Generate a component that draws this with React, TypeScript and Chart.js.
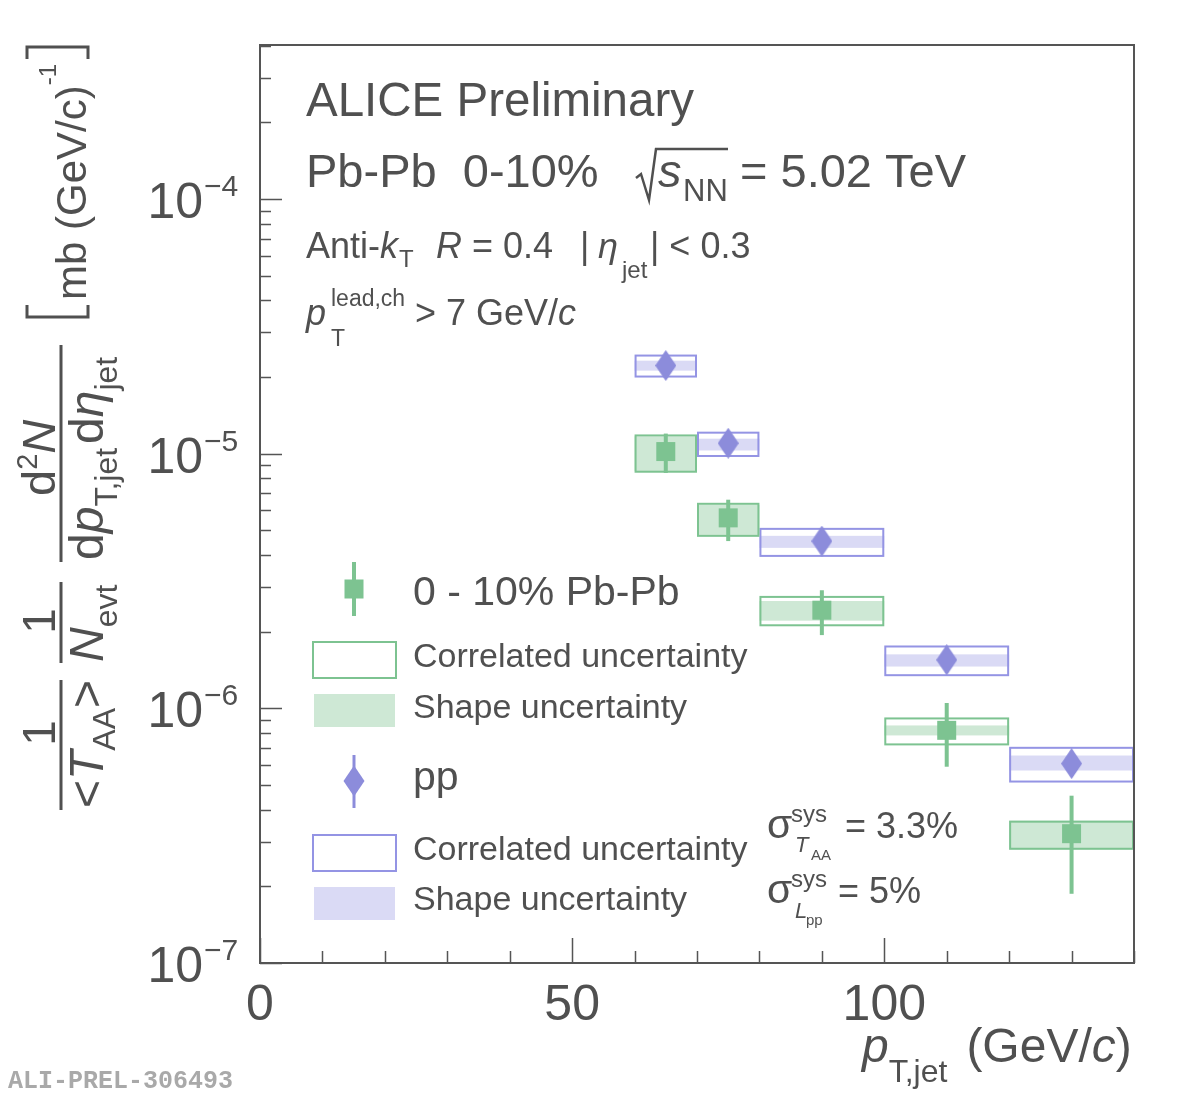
import { useEffect, useRef } from "react";
import { Chart, registerables } from "chart.js";

Chart.register(...registerables);

// pT,jet bins (GeV/c)
const binLow = [60, 70, 80, 100, 120];
const binHigh = [70, 80, 100, 120, 140];
const binCenter = [65, 75, 90, 110, 130];

// 0-10% Pb-Pb, scaled by 1/<TAA>
const pbpbValue = [1.02e-5, 5.6e-6, 2.43e-6, 8.2e-7, 3.22e-7];
const pbpbStatLow = [8.4e-6, 4.54e-6, 1.94e-6, 5.9e-7, 1.87e-7];
const pbpbStatHigh = [1.2e-5, 6.6e-6, 2.91e-6, 1.05e-6, 4.54e-7];
const pbpbCorrLow = [8.5e-6, 4.76e-6, 2.12e-6, 7.22e-7, 2.81e-7];
const pbpbCorrHigh = [1.18e-5, 6.36e-6, 2.74e-6, 9.13e-7, 3.59e-7];
const pbpbShapeLow = [8.55e-6, 4.8e-6, 2.21e-6, 7.83e-7, 2.79e-7];
const pbpbShapeHigh = [1.17e-5, 6.3e-6, 2.64e-6, 8.57e-7, 3.62e-7];

// pp reference
const ppValue = [2.22e-5, 1.1e-5, 4.54e-6, 1.55e-6, 6.07e-7];
const ppStatLow = [2.15e-5, 1.06e-5, 4.3e-6, 1.38e-6, 5.6e-7];
const ppStatHigh = [2.29e-5, 1.14e-5, 4.8e-6, 1.76e-6, 6.6e-7];
const ppCorrLow = [2.01e-5, 9.8e-6, 3.97e-6, 1.35e-6, 5.16e-7];
const ppCorrHigh = [2.43e-5, 1.21e-5, 5.07e-6, 1.75e-6, 7.0e-7];
const ppShapeLow = [2.12e-5, 1.03e-5, 4.27e-6, 1.46e-6, 5.7e-7];
const ppShapeHigh = [2.32e-5, 1.146e-5, 4.76e-6, 1.63e-6, 6.53e-7];

// axes
const xRange = [0, 140];
const yRange = [1e-7, 4.03e-4];
const xTickValues = [0, 10, 20, 30, 40, 50, 60, 70, 80, 90, 100, 110, 120, 130, 140];
const xLabelValues = [0, 50, 100];
const yDecades = [-7, -6, -5, -4];

const FONT = '"Liberation Sans", Arial, Helvetica, sans-serif';
const INK = "#505050";
const FRAME = "#555555";
const GREEN = "#7dc391";
const GREEN_FILL = "rgba(125,195,145,0.38)";
const PURPLE = "#8c8cdb";
const PURPLE_LINE = "#9494e4";
const PURPLE_FILL = "rgba(150,150,225,0.35)";

type Piece = { t: string; size: number; italic?: boolean; shift?: number; gap?: number };

function fnt(size: number, italic = false) {
  return `${italic ? "italic " : ""}${size}px ${FONT}`;
}

// horizontal run of text pieces starting at (x, y) baseline
function run(ctx: CanvasRenderingContext2D, x: number, y: number, pieces: Piece[]) {
  ctx.save();
  ctx.fillStyle = INK;
  ctx.textAlign = "left";
  ctx.textBaseline = "alphabetic";
  let u = x;
  for (const p of pieces) {
    u += p.gap ?? 0;
    ctx.font = fnt(p.size, p.italic);
    ctx.fillText(p.t, u, y + (p.shift ?? 0));
    u += ctx.measureText(p.t).width;
  }
  ctx.restore();
}

// text reading bottom-to-top; baseX is the baseline's x, startY where the run begins
function runUp(ctx: CanvasRenderingContext2D, baseX: number, startY: number, pieces: Piece[], align: CanvasTextAlign = "left") {
  ctx.save();
  ctx.translate(baseX, startY);
  ctx.rotate(-Math.PI / 2);
  ctx.fillStyle = INK;
  ctx.textAlign = align;
  ctx.textBaseline = "alphabetic";
  let u = 0;
  for (const p of pieces) {
    u += p.gap ?? 0;
    ctx.font = fnt(p.size, p.italic);
    ctx.fillText(p.t, u, p.shift ?? 0);
    u += ctx.measureText(p.t).width;
  }
  ctx.restore();
}

function diamondPath(ctx: CanvasRenderingContext2D, cx: number, cy: number, w: number, h: number) {
  ctx.beginPath();
  ctx.moveTo(cx, cy - h / 2);
  ctx.lineTo(cx + w / 2, cy);
  ctx.lineTo(cx, cy + h / 2);
  ctx.lineTo(cx - w / 2, cy);
  ctx.closePath();
}

function makeDiamond(w: number, h: number, color: string) {
  const c = document.createElement("canvas");
  c.width = w;
  c.height = h;
  const g = c.getContext("2d")!;
  g.fillStyle = color;
  diamondPath(g, w / 2, h / 2, w, h);
  g.fill();
  return c;
}

// uncertainty boxes and statistical error bars, below the markers
const uncertaintyPlugin = {
  id: "uncertainties",
  beforeDatasetsDraw(chart: any) {
    const { ctx } = chart;
    const xs = chart.scales.x;
    const ys = chart.scales.y;
    const series = [
      { shL: ppShapeLow, shH: ppShapeHigh, coL: ppCorrLow, coH: ppCorrHigh, stL: ppStatLow, stH: ppStatHigh, fill: PURPLE_FILL, line: PURPLE_LINE, bar: PURPLE, barW: 3 },
      { shL: pbpbShapeLow, shH: pbpbShapeHigh, coL: pbpbCorrLow, coH: pbpbCorrHigh, stL: pbpbStatLow, stH: pbpbStatHigh, fill: GREEN_FILL, line: GREEN, bar: GREEN, barW: 4 },
    ];
    ctx.save();
    for (const s of series) {
      for (let i = 0; i < binCenter.length; i++) {
        const x0 = xs.getPixelForValue(binLow[i]);
        const x1 = xs.getPixelForValue(binHigh[i]);
        const sy0 = ys.getPixelForValue(s.shH[i]);
        const sy1 = ys.getPixelForValue(s.shL[i]);
        ctx.fillStyle = s.fill;
        ctx.fillRect(x0, sy0, x1 - x0, sy1 - sy0);
        const cy0 = ys.getPixelForValue(s.coH[i]);
        const cy1 = ys.getPixelForValue(s.coL[i]);
        ctx.strokeStyle = s.line;
        ctx.lineWidth = 2;
        ctx.strokeRect(x0 + 1, cy0, x1 - x0 - 2, cy1 - cy0);
        const xc = xs.getPixelForValue(binCenter[i]);
        ctx.strokeStyle = s.bar;
        ctx.lineWidth = s.barW;
        ctx.beginPath();
        ctx.moveTo(xc, ys.getPixelForValue(s.stH[i]));
        ctx.lineTo(xc, ys.getPixelForValue(s.stL[i]));
        ctx.stroke();
      }
    }
    ctx.restore();
  },
};

// frame, ticks, labels, titles and legend
const decorPlugin = {
  id: "decor",
  afterDraw(chart: any) {
    const { ctx, chartArea: a } = chart;
    const xs = chart.scales.x;
    const ys = chart.scales.y;
    ctx.save();

    // frame and ticks
    ctx.strokeStyle = FRAME;
    ctx.lineWidth = 2;
    ctx.strokeRect(a.left, a.top, a.right - a.left, a.bottom - a.top);
    ctx.beginPath();
    for (const d of yDecades) {
      for (let m = 1; m <= 9; m++) {
        const v = m * Math.pow(10, d);
        if (v < yRange[0] || v > yRange[1]) continue;
        const py = Math.round(ys.getPixelForValue(v)) + 0.5;
        const len = m === 1 ? 22 : 11;
        ctx.moveTo(a.left, py);
        ctx.lineTo(a.left + len, py);
      }
    }
    for (const v of xTickValues) {
      const px = Math.round(xs.getPixelForValue(v)) + 0.5;
      const len = v % 50 === 0 ? 25 : 12;
      ctx.moveTo(px, a.bottom);
      ctx.lineTo(px, a.bottom - len);
    }
    ctx.lineWidth = 1.5;
    ctx.stroke();

    // y tick labels 10^n
    ctx.fillStyle = INK;
    for (const d of yDecades) {
      const py = ys.getPixelForValue(Math.pow(10, d));
      ctx.font = fnt(50);
      ctx.textAlign = "right";
      ctx.fillText("10", 203, py + 19);
      ctx.font = fnt(30);
      ctx.textAlign = "left";
      ctx.fillText("\u2212" + String(-d), 204, py - 3);
    }
    // x tick labels
    ctx.font = fnt(50);
    ctx.textAlign = "center";
    for (const v of xLabelValues) {
      ctx.fillText(String(v), xs.getPixelForValue(v), 1020);
    }

    // x title
    run(ctx, 862, 1062, [
      { t: "p", size: 48, italic: true },
      { t: "T,jet", size: 32, shift: 20 },
      { t: "(GeV/", size: 48, gap: 19 },
      { t: "c", size: 48, italic: true },
      { t: ")", size: 48 },
    ]);

    // y title
    runUp(ctx, 55, 733, [{ t: "1", size: 46 }], "center");
    runUp(ctx, 103, 808, [
      { t: "<", size: 48 },
      { t: "T", size: 48, italic: true },
      { t: "AA", size: 32, shift: 12 },
      { t: ">", size: 48 },
    ]);
    runUp(ctx, 55, 621, [{ t: "1", size: 46 }], "center");
    runUp(ctx, 103, 662, [
      { t: "N", size: 48, italic: true },
      { t: "evt", size: 32, shift: 14 },
    ]);
    runUp(ctx, 55, 496, [
      { t: "d", size: 47 },
      { t: "2", size: 29, shift: -18 },
      { t: "N", size: 47, italic: true },
    ]);
    runUp(ctx, 103, 560, [
      { t: "d", size: 48 },
      { t: "p", size: 48, italic: true },
      { t: "T,jet", size: 32, shift: 14 },
      { t: "d", size: 48, gap: 4 },
      { t: "\u03b7", size: 48, italic: true },
      { t: "jet", size: 32, shift: 14 },
    ]);
    ctx.fillStyle = INK;
    ctx.fillRect(59.5, 680, 3, 130);
    ctx.fillRect(59.5, 582, 3, 81);
    ctx.fillRect(59.5, 345, 3, 217);
    // brackets
    ctx.strokeStyle = INK;
    ctx.lineWidth = 3;
    ctx.beginPath();
    ctx.moveTo(27, 305);
    ctx.lineTo(27, 317);
    ctx.lineTo(88, 317);
    ctx.lineTo(88, 305);
    ctx.moveTo(27, 59);
    ctx.lineTo(27, 47);
    ctx.lineTo(88, 47);
    ctx.lineTo(88, 59);
    ctx.stroke();
    runUp(ctx, 86, 300, [
      { t: "mb (GeV/c)", size: 42 },
      { t: "-1", size: 24, shift: -30 },
    ]);

    // header texts
    run(ctx, 306, 116, [{ t: "ALICE Preliminary", size: 47.5 }]);
    run(ctx, 306, 187, [{ t: "Pb-Pb  0-10%", size: 47 }]);
    ctx.strokeStyle = INK;
    ctx.lineWidth = 2.5;
    ctx.beginPath();
    ctx.moveTo(636, 178);
    ctx.lineTo(641, 174);
    ctx.lineTo(649, 200);
    ctx.lineTo(656, 149);
    ctx.lineTo(728, 149);
    ctx.stroke();
    run(ctx, 658, 187, [{ t: "s", size: 47, italic: true }]);
    run(ctx, 683, 201, [{ t: "NN", size: 31 }]);
    run(ctx, 740, 187, [{ t: "= 5.02 TeV", size: 47 }]);

    run(ctx, 306, 258, [{ t: "Anti-", size: 36 }, { t: "k", size: 36, italic: true }]);
    run(ctx, 399, 267, [{ t: "T", size: 24 }]);
    run(ctx, 436, 258, [{ t: "R", size: 36, italic: true }, { t: " = 0.4", size: 36 }]);
    run(ctx, 580, 258, [{ t: "|", size: 36 }]);
    run(ctx, 598, 258, [{ t: "\u03b7", size: 36, italic: true }]);
    run(ctx, 622, 278, [{ t: "jet", size: 24 }]);
    run(ctx, 650, 258, [{ t: "| < 0.3", size: 36 }]);

    run(ctx, 306, 325, [{ t: "p", size: 36, italic: true }]);
    run(ctx, 331, 306, [{ t: "lead,ch", size: 23 }]);
    run(ctx, 331, 346, [{ t: "T", size: 23 }]);
    run(ctx, 415, 325, [{ t: "> 7 GeV/", size: 36 }, { t: "c", size: 36, italic: true }]);

    // legend
    ctx.strokeStyle = GREEN;
    ctx.lineWidth = 4;
    ctx.beginPath();
    ctx.moveTo(354, 562);
    ctx.lineTo(354, 616);
    ctx.stroke();
    ctx.fillStyle = GREEN;
    ctx.fillRect(344.5, 579.5, 19, 19);
    run(ctx, 413, 605, [{ t: "0 - 10% Pb-Pb", size: 41 }]);
    ctx.lineWidth = 2;
    ctx.strokeRect(313, 642, 83, 36);
    ctx.fillStyle = GREEN_FILL;
    ctx.fillRect(314, 694, 81, 33);
    run(ctx, 413, 667, [{ t: "Correlated uncertainty", size: 34 }]);
    run(ctx, 413, 718, [{ t: "Shape uncertainty", size: 34 }]);

    ctx.strokeStyle = PURPLE;
    ctx.lineWidth = 3;
    ctx.beginPath();
    ctx.moveTo(354, 755);
    ctx.lineTo(354, 808);
    ctx.stroke();
    ctx.fillStyle = PURPLE;
    diamondPath(ctx, 354, 781, 21, 31);
    ctx.fill();
    run(ctx, 413, 790, [{ t: "pp", size: 41 }]);
    ctx.strokeStyle = PURPLE_LINE;
    ctx.lineWidth = 2;
    ctx.strokeRect(313, 835, 83, 36);
    ctx.fillStyle = PURPLE_FILL;
    ctx.fillRect(314, 887, 81, 33);
    run(ctx, 413, 860, [{ t: "Correlated uncertainty", size: 34 }]);
    run(ctx, 413, 910, [{ t: "Shape uncertainty", size: 34 }]);

    // normalisation uncertainties
    run(ctx, 767, 838, [{ t: "\u03c3", size: 41 }]);
    run(ctx, 791, 822, [{ t: "sys", size: 24 }]);
    run(ctx, 795, 852, [{ t: "T", size: 22, italic: true }]);
    run(ctx, 811, 860, [{ t: "AA", size: 15 }]);
    run(ctx, 845, 838, [{ t: "= 3.3%", size: 36 }]);
    run(ctx, 767, 903, [{ t: "\u03c3", size: 41 }]);
    run(ctx, 791, 887, [{ t: "sys", size: 24 }]);
    run(ctx, 795, 918, [{ t: "L", size: 22, italic: true }]);
    run(ctx, 806, 925, [{ t: "pp", size: 15 }]);
    run(ctx, 838, 903, [{ t: "= 5%", size: 36 }]);

    // figure tag
    ctx.font = 'bold 25px "Liberation Mono", "DejaVu Sans Mono", monospace';
    ctx.fillStyle = "#a9a9a9";
    ctx.textAlign = "left";
    ctx.fillText("ALI-PREL-306493", 8, 1088);

    ctx.restore();
  },
};

export default function App() {
  const ref = useRef<HTMLCanvasElement>(null);

  useEffect(() => {
    const canvas = ref.current;
    if (!canvas) return;
    const chart = new Chart(canvas, {
      type: "scatter",
      data: {
        datasets: [
          {
            label: "pp",
            data: binCenter.map((x, i) => ({ x, y: ppValue[i] })),
            pointStyle: makeDiamond(21, 31, PURPLE) as any,
            pointRadius: 10,
            backgroundColor: PURPLE,
            borderWidth: 0,
          },
          {
            label: "0 - 10% Pb-Pb",
            data: binCenter.map((x, i) => ({ x, y: pbpbValue[i] })),
            pointStyle: "rect",
            pointRadius: 13.43,
            backgroundColor: GREEN,
            borderWidth: 0,
          },
        ],
      },
      options: {
        responsive: false,
        animation: false,
        events: [],
        layout: { padding: { left: 260, right: 48, top: 45, bottom: 132 } },
        scales: {
          x: { type: "linear", min: xRange[0], max: xRange[1], display: false },
          y: { type: "logarithmic", min: yRange[0], max: yRange[1], display: false },
        },
        plugins: { legend: { display: false }, tooltip: { enabled: false } },
      },
      plugins: [uncertaintyPlugin, decorPlugin],
    });
    return () => chart.destroy();
  }, []);

  return (
    <div style={{ position: "absolute", left: 0, top: 0, width: 1182, height: 1095, background: "#ffffff" }}>
      <canvas ref={ref} width={1182} height={1095} style={{ display: "block" }} />
    </div>
  );
}
